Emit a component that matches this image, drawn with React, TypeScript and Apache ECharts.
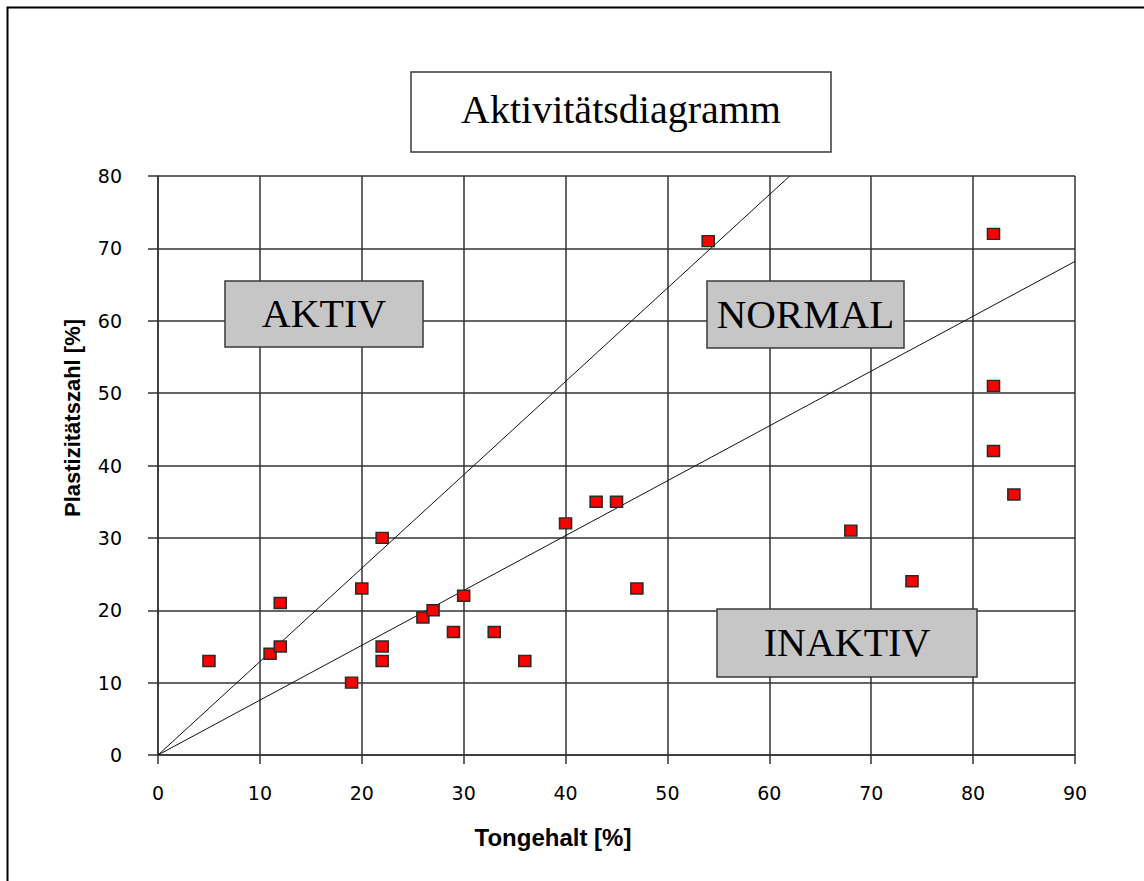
import React, { useEffect, useRef } from "react";
import * as echarts from "echarts";

const tongehalt = [5, 11, 12, 12, 19, 20, 22, 22, 22, 26, 27, 29, 30, 33, 36, 40, 43, 45, 47, 54, 68, 74, 82, 82, 82, 84];
const plastizitaet = [13, 14, 15, 21, 10, 23, 30, 15, 13, 19, 20, 17, 22, 17, 13, 32, 35, 35, 23, 71, 31, 24, 72, 51, 42, 36];

const aktivLine = [[0, 0], [62, 80]];
const inaktivLine = [[0, 0], [90, 68.2]];

const xTicks = { min: 0, max: 90, interval: 10 };
const yTicks = { min: 0, max: 80, interval: 10 };

const titleText = "Aktivitätsdiagramm";
const xName = "Tongehalt [%]";
const yName = "Plastizitätszahl [%]";
const zoneLabels = ["AKTIV", "NORMAL", "INAKTIV"];

const SERIF = "'Liberation Serif', 'Times New Roman', serif";
const SANS = "'DejaVu Sans', sans-serif";

export default function App() {
  const ref = useRef<HTMLDivElement>(null);
  useEffect(() => {
    if (!ref.current) return;
    const chart = echarts.init(ref.current, null, { renderer: "svg" });
    const points = tongehalt.map((x, i) => [x, plastizitaet[i]]);
    const box = (x: number, y: number, w: number, h: number, text: string, fill: string, size: number, dy: number) => ({
      type: "group",
      children: [
        {
          type: "rect",
          shape: { x, y, width: w, height: h },
          style: { fill, stroke: "#3a3a3a", lineWidth: 1.5 },
          z: 10,
        },
        {
          type: "text",
          x: x + w / 2,
          y: y + h / 2 + dy,
          style: {
            text,
            font: `${size}px ${SERIF}`,
            fill: "#000",
            textAlign: "center",
            textVerticalAlign: "middle",
          },
          z: 11,
        },
      ],
    });
    chart.setOption({
      animation: false,
      backgroundColor: "#fff",
      grid: { left: 158, top: 176, width: 917, height: 579, containLabel: false },
      xAxis: {
        type: "value",
        ...xTicks,
        axisLine: { show: true, onZero: false, lineStyle: { color: "#333", width: 1.5 } },
        axisTick: { show: true, length: 9, lineStyle: { color: "#333", width: 1.5 } },
        axisLabel: { margin: 28, fontFamily: SANS, fontSize: 19, color: "#000" },
        splitLine: { show: true, lineStyle: { color: "#333", width: 1.5 } },
      },
      yAxis: {
        type: "value",
        ...yTicks,
        axisLine: { show: true, onZero: false, lineStyle: { color: "#333", width: 1.5 } },
        axisTick: { show: true, length: 10, lineStyle: { color: "#333", width: 1.5 } },
        axisLabel: { margin: 36, fontFamily: SANS, fontSize: 19, color: "#000" },
        splitLine: { show: true, lineStyle: { color: "#333", width: 1.5 } },
      },
      series: [
        {
          type: "line",
          data: aktivLine,
          symbol: "none",
          lineStyle: { color: "#111", width: 1 },
          z: 3,
        },
        {
          type: "line",
          data: inaktivLine,
          symbol: "none",
          lineStyle: { color: "#111", width: 1 },
          z: 3,
        },
        {
          type: "scatter",
          data: points,
          symbol: "rect",
          symbolSize: [12, 11],
          itemStyle: { color: "#ff0000", borderColor: "#2a2a2a", borderWidth: 1.5, opacity: 1 },
          z: 5,
        },
      ],
      graphic: [
        {
          type: "rect",
          shape: { x: 7.5, y: 7.5, width: 1200, height: 1000 },
          style: { fill: "none", stroke: "#000", lineWidth: 2 },
          z: 20,
        },
        box(411, 72, 420, 80, titleText, "#fff", 40, -3),
        box(225, 281, 198, 66, zoneLabels[0], "#c6c6c6", 40, -1),
        box(707, 281, 197, 67, zoneLabels[1], "#c6c6c6", 41, -1),
        box(717, 609, 260, 68, zoneLabels[2], "#c6c6c6", 40, -1),
        {
          type: "text",
          x: 72,
          y: 418,
          rotation: Math.PI / 2,
          style: {
            text: yName,
            font: `bold 22px 'Liberation Sans Narrow', 'Liberation Sans', Arial, sans-serif`,
            fill: "#000",
            textAlign: "center",
            textVerticalAlign: "middle",
          },
          z: 11,
        },
        {
          type: "text",
          x: 553,
          y: 837,
          style: {
            text: xName,
            font: `bold 24px 'Liberation Sans', Arial, sans-serif`,
            fill: "#000",
            textAlign: "center",
            textVerticalAlign: "middle",
          },
          z: 11,
        },
      ],
    });
    return () => chart.dispose();
  }, []);
  return (
    <div
      ref={ref}
      style={{ position: "absolute", left: 0, top: 0, width: 1144, height: 881 }}
    />
  );
}
